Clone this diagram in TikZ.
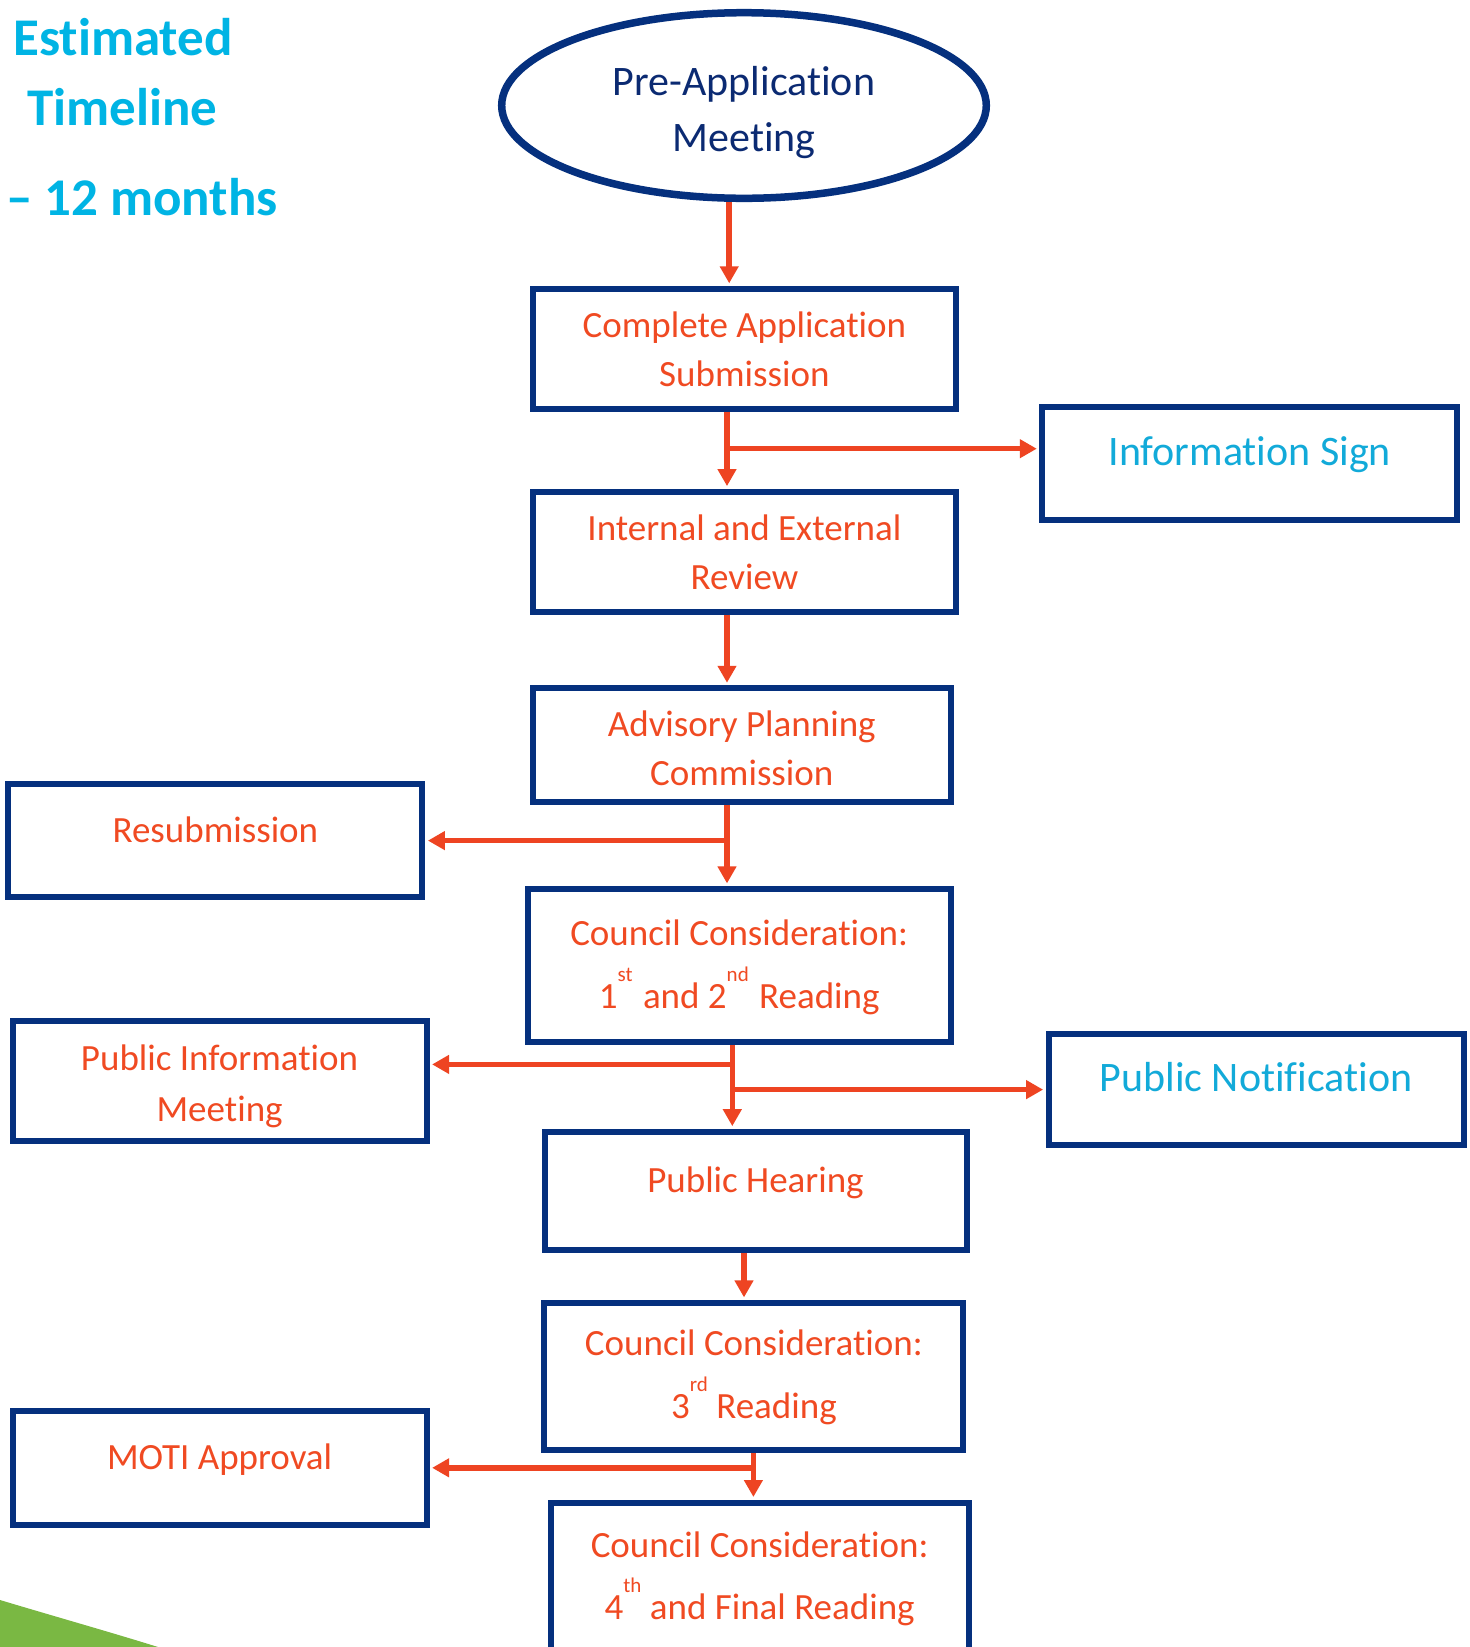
\documentclass[tikz,border=0pt]{standalone}
\usepackage{fontspec}
\setmainfont{Carlito}[Ligatures={NoCommon}]
\usetikzlibrary{arrows.meta,shapes.geometric}

\definecolor{navy}{HTML}{05307E}
\definecolor{ovaltext}{HTML}{0B2A72}
\definecolor{steptext}{HTML}{F04A22}
\definecolor{arrowred}{HTML}{EE4422}
\definecolor{skyblue}{HTML}{00B4E4}
\definecolor{signblue}{HTML}{12AAD9}
\definecolor{leafgreen}{HTML}{7AB843}

% raised ordinal suffix, kept out of the line height
\newcommand\ordsup[1]{\smash{\raisebox{27pt}{\fontsize{21}{21}\selectfont #1}}}

\begin{document}
\begin{tikzpicture}[x=1pt,y=-1pt,
  stepbox/.style={draw=navy,line width=6pt,rectangle,inner sep=0pt,
    align=center,text=steptext,font=\fontsize{37}{49}\selectfont},
  % multi-line text: last baseline sits #1 below the middle of the shape
  dropped/.style={
    execute at begin node={\rule{0pt}{\dimexpr 12pt+#1pt+#1pt\relax}},
    execute at end node={\rule[-12pt]{0pt}{12pt}}},
  onebox/.style={stepbox,text height=30pt,text depth=27pt},
  signbox/.style={stepbox,text height=30pt,text depth=26pt,
    text=signblue,font=\fontsize{42}{49}\selectfont},
  oval/.style={draw=navy,line width=7.5pt,ellipse,inner sep=0pt,align=center,
    text=ovaltext,font=\fontsize{42}{56.7}\selectfont},
  heading/.style={anchor=base west,inner sep=0pt,text=skyblue,
    font=\fontsize{53}{53}\selectfont\bfseries},
  arr/.style={draw=arrowred,line width=5.5pt,
    -{Triangle[length=17pt,width=18pt]},shorten >=2.5pt}
]
\path[use as bounding box,clip] (0,0) rectangle (1470,1647);
\fill[white] (0,0) rectangle (1470,1647);

% corner swoosh
\fill[leafgreen] (0,1600) .. controls (60,1618) and (110,1632) .. (158,1647)
  -- (0,1647) -- cycle;

% heading
\node[heading] (h1) at (13,55) {Estimated};
\node[heading] (h2) at (27,125) {Timeline};
\node[heading] (h3) at (6,215) {– 12 months};

% main steps
\node[oval,dropped=46.2,minimum width=484.6pt,minimum height=185.6pt] (pre)
  at (744,105.5) {Pre-Application\\Meeting};
\node[stepbox,dropped=38.1,minimum width=423pt,minimum height=120pt] (cas)
  at (744.4,348.8) {Complete Application\\Submission};
\node[signbox,minimum width=415pt,minimum height=113.5pt] (info)
  at (1249.8,463.4) {Information Sign};
\node[stepbox,dropped=37.6,minimum width=423pt,minimum height=120pt] (ier)
  at (744.4,551.6) {Internal and External\\Review};
\node[stepbox,dropped=40.3,minimum width=418pt,minimum height=113.5pt] (apc)
  at (741.8,745) {Advisory Planning\\Commission};
\node[onebox,minimum width=414pt,minimum height=113.5pt] (resub)
  at (215.4,840.6) {Resubmission};
\node[stepbox,dropped=42.4,minimum width=423pt,minimum height=153.4pt] (cc12)
  at (739.2,965.6)
  {Council Consideration:\\[14pt]1\ordsup{st}\kern2pt{} and 2\ordsup{nd}\kern2pt{} Reading};
\node[stepbox,dropped=40.3,font=\fontsize{37}{51}\selectfont,
  minimum width=414pt,minimum height=120pt] (pim)
  at (219.6,1081.2) {Public Information\\Meeting};
\node[signbox,minimum width=415pt,minimum height=111.4pt] (pn)
  at (1256.1,1089.6) {Public Notification};
\node[onebox,minimum width=422pt,minimum height=118.7pt] (ph)
  at (755.5,1191) {Public Hearing};
\node[stepbox,dropped=42.5,minimum width=419pt,minimum height=147pt] (cc3)
  at (753.9,1376.4) {Council Consideration:\\[14pt]3\ordsup{rd} Reading};
\node[stepbox,dropped=42.1,minimum width=418pt,minimum height=150pt] (cc4)
  at (759.7,1577.5)
  {Council Consideration:\\[13pt]4\ordsup{th} and Final Reading};
\node[onebox,minimum width=414pt,minimum height=113.5pt] (moti)
  at (219.6,1467.8) {MOTI Approval};

% trunk positions and branch points
\coordinate (k0) at (729.2,0);
\coordinate (k1) at (727,0);
\coordinate (k2) at (732.3,0);
\coordinate (k3) at (744,0);
\coordinate (k4) at (753.4,0);
\coordinate (j1) at (727,448.7);
\coordinate (j2) at (727,840.6);
\coordinate (j3) at (732.3,1064.4);
\coordinate (j4) at (732.3,1089.6);
\coordinate (j5) at (753.4,1467.8);

% connectors
\draw[arr] (pre.south -| k0) -- (cas.north -| k0);
\draw[arr] (cas.south -| k1) -- (ier.north -| k1);
\draw[arr] (j1) -- (j1 -| info.west);
\draw[arr] (ier.south -| k1) -- (apc.north -| k1);
\draw[arr] (apc.south -| k1) -- (cc12.north -| k1);
\draw[arr] (j2) -- (j2 -| resub.east);
\draw[arr] (cc12.south -| k2) -- (ph.north -| k2);
\draw[arr] (j3) -- (j3 -| pim.east);
\draw[arr] (j4) -- (j4 -| pn.west);
\draw[arr] (ph.south -| k3) -- (cc3.north -| k3);
\draw[arr] (cc3.south -| k4) -- (cc4.north -| k4);
\draw[arr] (j5) -- (j5 -| moti.east);
\end{tikzpicture}
\end{document}
